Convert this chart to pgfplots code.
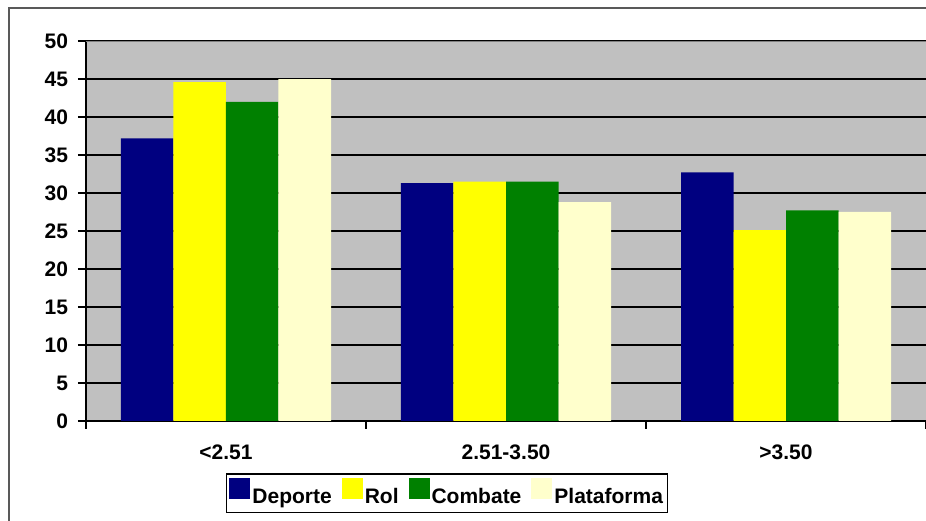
\documentclass[border=0pt]{standalone}
\usepackage{pgfplots}
\pgfplotsset{compat=1.18}
\usepackage{fontspec}
\setmainfont{Liberation Sans}
\definecolor{plotgray}{HTML}{C0C0C0}
\definecolor{bordergray}{HTML}{808080}
\definecolor{cDep}{HTML}{000080}
\definecolor{cRol}{HTML}{FFFF00}
\definecolor{cCom}{HTML}{008000}
\definecolor{cPla}{HTML}{FFFFCC}
\begin{document}
\begin{tikzpicture}
\path[use as bounding box] (-64.5pt,-75pt) rectangle (630pt,315.75pt);
\begin{axis}[
  at={(0,0)}, anchor=south west,
  scale only axis, width=630pt, height=285pt,
  xmin=-0.5, xmax=2.5, ymin=0, ymax=50,
  ytick={0,5,...,50},
  yticklabel style={xshift=-4pt},
  xtick={-0.5,0.5,1.5,2.5}, xticklabels={},
  extra x ticks={0,1,2},
  extra x tick labels={{<2.51},{2.51-3.50},{>3.50}},
  extra x tick style={major tick length=0pt, grid=none, xticklabel style={yshift=-14pt}},
  axis x line*=bottom, axis y line*=left,
  axis line style={-, black, line width=1.5pt},
  tick align=outside, major tick length=6pt,
  tick style={black, line width=1.5pt},
  ymajorgrids, grid style={black, line width=1.1pt},
  axis background/.style={fill=plotgray},
  /pgf/number format/assume math mode=true,
  every tick label/.append style={font=\fontsize{15.75}{18}\selectfont\bfseries},
  ybar=0pt, bar width=39.375pt,
  legend style={at={(0.43,-0.19)}, anchor=center, legend columns=4,
    draw=black, line width=1.1pt, font=\fontsize{15.75}{18}\selectfont\bfseries,
    inner xsep=2pt, inner ysep=3pt,
    /tikz/every even column/.append style={column sep=6pt},
    nodes={inner xsep=1.5pt}},
  legend image code/.code={\fill[#1] (0pt,-1.5pt) rectangle (15.75pt,14.25pt);},
]
\addplot[fill=cDep, draw=none] coordinates {(0,37.2) (1,31.3) (2,32.7)};
\addplot[fill=cRol, draw=none] coordinates {(0,44.6) (1,31.5) (2,25.1)};
\addplot[fill=cCom, draw=none] coordinates {(0,42.0) (1,31.5) (2,27.7)};
\addplot[fill=cPla, draw=none] coordinates {(0,45.0) (1,28.8) (2,27.5)};
\legend{Deporte,Rol,Combate,Plataforma}
\draw[bordergray, line width=1.5pt] (rel axis cs:0,1) -- (rel axis cs:1,1);
\end{axis}
\draw[black!65, line width=1.1pt] (-57.75pt,-80pt) -- (-57.75pt,309.75pt) -- (640pt,309.75pt);
\end{tikzpicture}
\end{document}
